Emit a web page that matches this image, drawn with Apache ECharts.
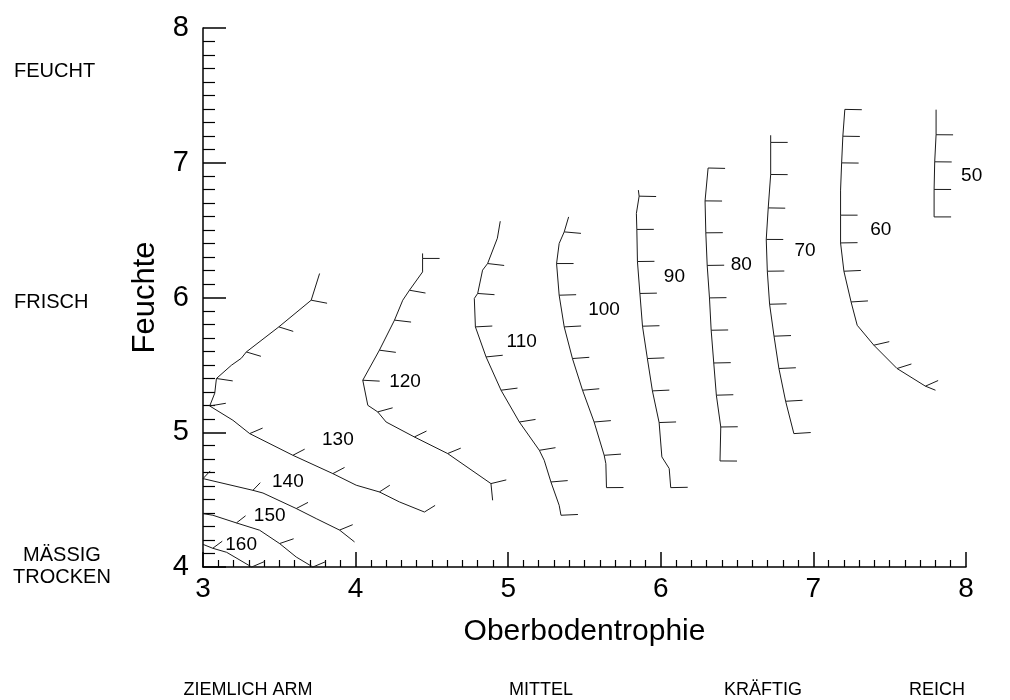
<!DOCTYPE html>
<html><head><meta charset="utf-8">
<script src="https://cdn.jsdelivr.net/npm/echarts@6/dist/echarts.min.js"></script>
<style>html,body{margin:0;padding:0;background:#fff}#c{width:1010px;height:700px}</style>
</head><body><div id="c"></div>
<script>
// Contour polylines: [Oberbodentrophie, Feuchte, hachure flag]
const c160 = [[3.000,4.168,0],[3.064,4.139,1],[3.155,4.109,0],[3.319,4.000,1]];
const c150 = [[3.000,4.396,0],[3.065,4.384,0],[3.219,4.327,1],[3.371,4.273,0],[3.502,4.174,1],[3.611,4.074,0],[3.720,4.000,1]];
const c140 = [[3.000,4.656,1],[3.327,4.569,1],[3.393,4.549,0],[3.611,4.434,1],[3.742,4.359,0],[3.895,4.274,1],[3.993,4.186,0]];
const c130 = [[3.764,6.178,0],[3.709,5.980,1],[3.497,5.782,1],[3.284,5.596,1],[3.251,5.549,0],[3.186,5.497,0],[3.088,5.399,1],[3.077,5.290,0],[3.044,5.195,1],[3.196,5.089,0],[3.306,4.990,1],[3.589,4.829,1],[3.851,4.693,1],[4.004,4.607,0],[4.156,4.557,1],[4.287,4.483,0],[4.451,4.408,1]];
const c120 = [[4.439,6.327,0],[4.439,6.290,1],[4.439,6.190,0],[4.353,6.054,1],[4.309,5.980,0],[4.255,5.832,1],[4.156,5.609,1],[4.047,5.386,1],[4.080,5.200,0],[4.145,5.151,1],[4.200,5.076,0],[4.385,4.965,1],[4.603,4.842,1],[4.887,4.619,1],[4.898,4.495,0]];
const c110 = [[4.948,6.566,0],[4.929,6.440,0],[4.865,6.252,1],[4.832,6.203,0],[4.800,6.030,1],[4.778,5.993,0],[4.785,5.782,1],[4.855,5.559,1],[4.953,5.312,1],[5.073,5.076,1],[5.204,4.866,1],[5.236,4.792,0],[5.280,4.631,1],[5.334,4.458,0],[5.346,4.384,1]];
const c100 = [[5.396,6.598,0],[5.367,6.487,1],[5.334,6.401,0],[5.317,6.252,1],[5.334,6.017,1],[5.367,5.782,1],[5.421,5.547,1],[5.487,5.312,1],[5.563,5.076,1],[5.629,4.829,1],[5.640,4.767,0],[5.644,4.589,1]];
const c90  = [[5.853,6.797,0],[5.858,6.752,1],[5.840,6.624,0],[5.843,6.505,1],[5.847,6.267,1],[5.863,6.030,1],[5.880,5.787,1],[5.912,5.547,1],[5.945,5.307,1],[5.989,5.072,1],[6.007,4.817,0],[6.055,4.731,0],[6.065,4.589,1]];
const c80  = [[6.310,6.961,1],[6.290,6.717,1],[6.295,6.480,1],[6.304,6.238,1],[6.319,5.997,1],[6.330,5.757,1],[6.347,5.514,1],[6.364,5.275,1],[6.393,5.039,1],[6.388,4.787,1]];
const c70  = [[6.720,7.204,0],[6.720,7.151,1],[6.720,6.913,1],[6.704,6.665,1],[6.691,6.431,1],[6.698,6.195,1],[6.713,5.950,1],[6.742,5.713,1],[6.774,5.473,1],[6.818,5.230,1],[6.872,4.990,1]];
const c60  = [[7.206,7.396,1],[7.193,7.197,1],[7.185,6.999,1],[7.178,6.797,0],[7.178,6.611,1],[7.178,6.405,1],[7.200,6.195,1],[7.247,5.967,1],[7.287,5.794,0],[7.396,5.646,1],[7.548,5.473,1],[7.734,5.342,1],[7.800,5.312,0]];
const c50  = [[7.804,7.394,0],[7.804,7.208,1],[7.795,7.007,1],[7.791,6.802,1],[7.791,6.598,1]];

const levels = [160,150,140,130,120,110,100,90,80,70,60,50];
const contourLines = [c160,c150,c140,c130,c120,c110,c100,c90,c80,c70,c60,c50];
// contour label anchors
const labelX = [3.250,3.437,3.556,3.884,4.324,5.088,5.628,6.089,6.527,6.945,7.441,8.037];
const labelY = [4.165,4.379,4.631,4.946,5.375,5.672,5.912,6.154,6.241,6.347,6.500,6.900];

const moistureLabels = ['FEUCHT','FRISCH','MÄSSIG\nTROCKEN'];
const trophyLabels = ['ZIEMLICH ARM','MITTEL','KRÄFTIG','REICH'];

const FONT = '"Liberation Sans", Arial, Helvetica, sans-serif';

// hachure items: [x, y, prevX, prevY, nextX, nextY]
const hachures = [];
contourLines.forEach(pts => {
  pts.forEach((p, i) => {
    if (!p[2]) return;
    const a = pts[Math.max(i - 1, 0)], b = pts[Math.min(i + 1, pts.length - 1)];
    hachures.push([p[0], p[1], a[0], a[1], b[0], b[1]]);
  });
});

const series = contourLines.map((pts, k) => ({
  type: 'line', name: String(levels[k]),
  data: pts.map(p => [p[0], p[1]]),
  symbol: 'none', showSymbol: false, smooth: false, silent: true,
  lineStyle: { color: '#1a1a1a', width: 1 }, animation: false, clip: false
}));

series.push({
  type: 'custom', silent: true, animation: false, clip: false,
  data: hachures,
  encode: { x: 0, y: 1 },
  renderItem: function (params, api) {
    const p = api.coord([api.value(0), api.value(1)]);
    const a = api.coord([api.value(2), api.value(3)]);
    const b = api.coord([api.value(4), api.value(5)]);
    const A = 0.5, L = 8.5;
    let tx = (b[0] - a[0]) * A, ty = b[1] - a[1];
    const n = Math.hypot(tx, ty) || 1; tx /= n; ty /= n;
    const nx = ty, ny = -tx;
    return { type: 'line', shape: { x1: p[0], y1: p[1], x2: p[0] + nx * L / A, y2: p[1] + ny * L },
      style: { stroke: '#1a1a1a', lineWidth: 1 } };
  }
});

// contour value labels
series.push({
  type: 'custom', silent: true, animation: false, clip: false,
  data: levels.map((v, i) => [labelX[i], labelY[i], v]),
  encode: { x: 0, y: 1 },
  renderItem: function (params, api) {
    const p = api.coord([api.value(0), api.value(1)]);
    return { type: 'text', x: p[0], y: p[1],
      style: { text: String(api.value(2)), font: '19px ' + FONT, fill: '#000',
        align: 'center', verticalAlign: 'middle', textAlign: 'center', textVerticalAlign: 'middle' } };
  }
});

const chart = echarts.init(document.getElementById('c'), null, { renderer: 'canvas' });
chart.setOption({
  backgroundColor: '#fff',
  animation: false,
  grid: { left: 203, right: 44, top: 28, bottom: 133, containLabel: false, outerBoundsMode: 'none' },
  xAxis: {
    type: 'value', min: 3, max: 8, interval: 1,
    axisLine: { show: true, onZero: false, lineStyle: { color: '#000', width: 1.5 } },
    axisTick: { show: true, inside: true, length: 15, lineStyle: { color: '#000', width: 1.5 } },
    minorTick: { show: true, splitNumber: 10, length: 7, lineStyle: { color: '#000', width: 1.2 } },
    splitLine: { show: false }, minorSplitLine: { show: false },
    axisLabel: { fontSize: 28, color: '#000', margin: 8, fontFamily: FONT },
    name: 'Oberbodentrophie', nameLocation: 'middle', nameGap: 50,
    nameTextStyle: { fontSize: 30, color: '#000', fontFamily: FONT }
  },
  yAxis: {
    type: 'value', min: 4, max: 8, interval: 1,
    axisLine: { show: true, onZero: false, lineStyle: { color: '#000', width: 1.5 } },
    axisTick: { show: true, inside: true, length: 23, lineStyle: { color: '#000', width: 1.5 } },
    minorTick: { show: true, splitNumber: 10, length: 12, lineStyle: { color: '#000', width: 1.2 } },
    splitLine: { show: false }, minorSplitLine: { show: false },
    axisLabel: { fontSize: 29, color: '#000', margin: 14, fontFamily: FONT },
    name: 'Feuchte', nameLocation: 'middle', nameRotate: 90, nameGap: 42,
    nameTextStyle: { fontSize: 31, color: '#000', fontFamily: FONT }
  },
  graphic: [
    { type: 'text', x: 14, y: 71, style: { text: moistureLabels[0], font: '20px ' + FONT, fill: '#000', align: 'left', verticalAlign: 'middle' } },
    { type: 'text', x: 14, y: 302, style: { text: moistureLabels[1], font: '20px ' + FONT, fill: '#000', align: 'left', verticalAlign: 'middle' } },
    { type: 'text', x: 62, y: 566, style: { text: moistureLabels[2], font: '20px ' + FONT, lineHeight: 22, fill: '#000', align: 'center', verticalAlign: 'middle' } },
    { type: 'text', x: 248, y: 690, style: { text: trophyLabels[0], font: '18px ' + FONT, fill: '#000', align: 'center', verticalAlign: 'middle' } },
    { type: 'text', x: 541, y: 690, style: { text: trophyLabels[1], font: '18px ' + FONT, fill: '#000', align: 'center', verticalAlign: 'middle' } },
    { type: 'text', x: 763, y: 690, style: { text: trophyLabels[2], font: '18px ' + FONT, fill: '#000', align: 'center', verticalAlign: 'middle' } },
    { type: 'text', x: 937, y: 690, style: { text: trophyLabels[3], font: '18px ' + FONT, fill: '#000', align: 'center', verticalAlign: 'middle' } }
  ],
  series: series
});
</script></body></html>
